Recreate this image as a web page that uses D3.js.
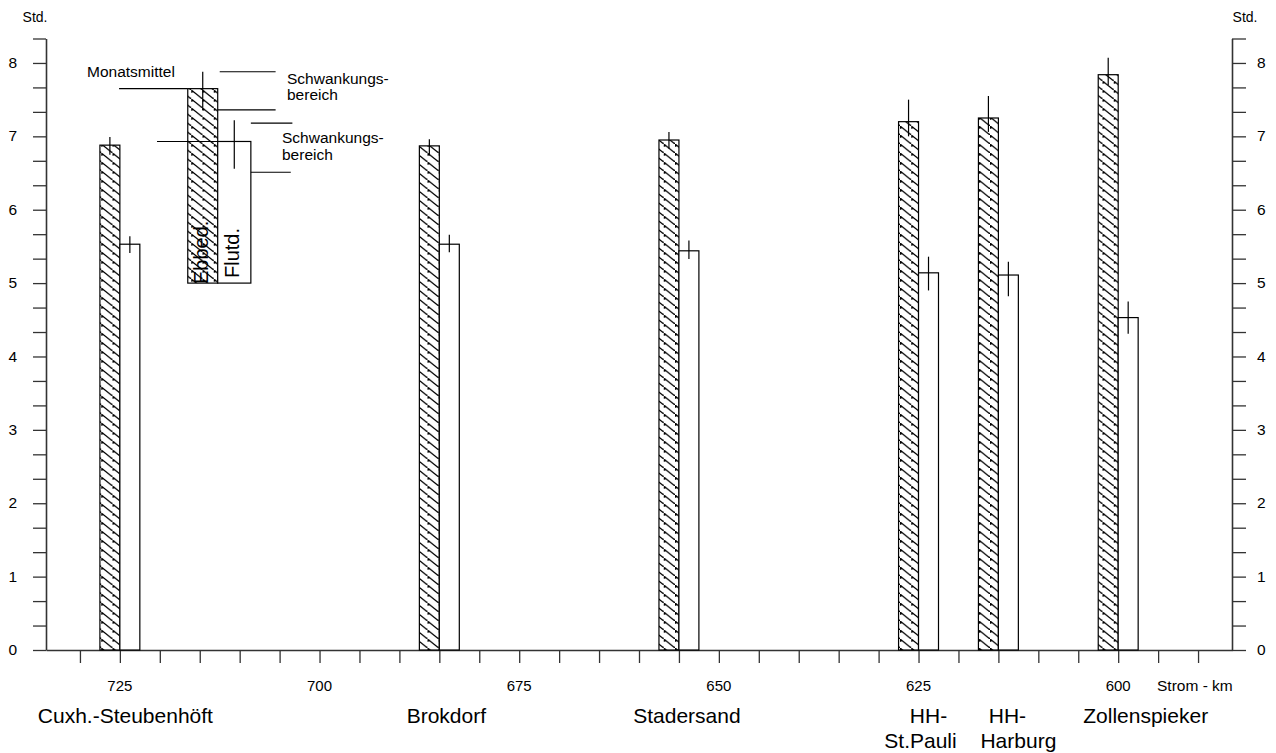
<!DOCTYPE html>
<html>
<head>
<meta charset="utf-8">
<script src="https://cdn.jsdelivr.net/npm/d3@7"></script>
<style>
  html, body { margin: 0; padding: 0; background: #fff; }
  svg { display: block; font-family: "Liberation Sans", Arial, Helvetica, sans-serif; }
</style>
</head>
<body>
<svg id="chart" width="1276" height="753"></svg>
<script>
// Ebb / flood duration (hours) along the tidal Elbe, by river kilometre
const stationNames = [["Cuxh.-Steubenhöft"], ["Brokdorf"], ["Stadersand"], ["HH-", "St.Pauli"], ["HH-", "Harburg"], ["Zollenspieker"]];
const stationKm   = [725, 685, 655, 625, 615, 600];
const ebbMean     = [6.88, 6.87, 6.95, 7.20, 7.25, 7.84];
const ebbMin      = [6.75, 6.74, 6.83, 7.00, 7.06, 7.70];
const ebbMax      = [6.99, 6.96, 7.06, 7.50, 7.55, 8.07];
const floodMean   = [5.53, 5.53, 5.44, 5.14, 5.11, 4.53];
const floodMin    = [5.41, 5.42, 5.33, 4.90, 4.82, 4.31];
const floodMax    = [5.64, 5.66, 5.58, 5.36, 5.29, 4.75];
const kmTicks     = d3.range(730, 589, -5);
const kmTickLabels = [725, 700, 675, 650, 625, 600];
const hourTicks   = d3.range(0, 9);
const hourMinorTicks = d3.range(0, 26).map(i => i / 3);
// key: mean and range of ebb and flood duration
const keyMean = [7.65, 6.93];
const keyMin  = [7.36, 6.56];
const keyMax  = [7.88, 7.22];
const keyBase = 5;

// ---- layout ----
const svg = d3.select("#chart");
const plotL = 46, plotR = 1232, plotT = 38.5, plotB = 650;
const barKm = 2.5;
const x = d3.scaleLinear().domain([734.25, 585.75]).range([plotL, plotR]);
const y = d3.scaleLinear().domain([0, 25 / 3]).range([plotB, plotT]);
const labelShift = [[5.5], [7], [8], [10, 2], [9, 20], [27.5]];

// hatch pattern for the ebb bars
const defs = svg.append("defs");
const pat = defs.append("pattern")
  .attr("id", "hatch").attr("patternUnits", "userSpaceOnUse")
  .attr("width", 11.25).attr("height", 9);
pat.append("rect").attr("width", 11.25).attr("height", 9).attr("fill", "#fff");
pat.append("path")
  .attr("d", "M-2,-1.6 L13.25,10.6 M-13.25,-9 L1.25,2.6 M10,7.8 L24.5,19.4")
  .attr("stroke", "#000").attr("stroke-width", 1.3).attr("fill", "none");

// ---- axes ----
const tickStyle = g => {
  g.select(".domain").attr("stroke", "#333").attr("stroke-width", 1.6);
  g.selectAll(".tick line").attr("stroke", "#333").attr("stroke-width", 1.3);
};

svg.append("g")
  .attr("transform", `translate(${plotL},0)`)
  .call(d3.axisLeft(y).tickValues(hourMinorTicks).tickSize(13).tickSizeOuter(0).tickFormat(""))
  .call(tickStyle);
svg.append("g")
  .attr("transform", `translate(${plotR},0)`)
  .call(d3.axisRight(y).tickValues(hourMinorTicks).tickSize(14).tickSizeOuter(0).tickFormat(""))
  .call(tickStyle);
svg.append("g")
  .attr("transform", `translate(0,${plotB})`)
  .call(d3.axisBottom(x).tickValues(kmTicks).tickSize(13).tickSizeOuter(0).tickFormat(""))
  .call(tickStyle);

const lbl = svg.append("g").attr("fill", "#000");
lbl.selectAll("text.yl").data(hourTicks).join("text")
  .attr("x", 17).attr("y", d => y(d)).attr("dy", "0.33em")
  .attr("text-anchor", "end").attr("font-size", 15.5).text(d => d);
lbl.selectAll("text.yr").data(hourTicks).join("text")
  .attr("x", 1257).attr("y", d => y(d)).attr("dy", "0.33em")
  .attr("text-anchor", "start").attr("font-size", 15.5).text(d => d);
lbl.append("text").attr("x", 35).attr("y", 22).attr("text-anchor", "middle").attr("font-size", 14).text("Std.");
lbl.append("text").attr("x", 1245).attr("y", 22).attr("text-anchor", "middle").attr("font-size", 14).text("Std.");
lbl.selectAll("text.xl").data(kmTickLabels).join("text")
  .attr("x", d => x(d)).attr("y", 691)
  .attr("text-anchor", "middle").attr("font-size", 15).text(d => d);
lbl.append("text").attr("x", 1157).attr("y", 691).attr("font-size", 15.5).text("Strom - km");

// station names
stationNames.forEach((lines, i) => {
  lines.forEach((s, j) => {
    lbl.append("text")
      .attr("x", x(stationKm[i]) + labelShift[i][j])
      .attr("y", 723 + j * 25)
      .attr("text-anchor", "middle").attr("font-size", 21).text(s);
  });
});

// ---- bars ----
const bars = svg.append("g");
stationKm.forEach((km, i) => {
  // ebb (hatched) left of the station, flood (white) right of it
  bars.append("rect")
    .attr("x", x(km + barKm)).attr("width", x(km) - x(km + barKm))
    .attr("y", y(ebbMean[i])).attr("height", y(0) - y(ebbMean[i]))
    .attr("fill", "url(#hatch)").attr("stroke", "#000").attr("stroke-width", 1.2);
  bars.append("rect")
    .attr("x", x(km)).attr("width", x(km - barKm) - x(km))
    .attr("y", y(floodMean[i])).attr("height", y(0) - y(floodMean[i]))
    .attr("fill", "#fff").attr("stroke", "#000").attr("stroke-width", 1.2);
  // range of monthly values
  const ex = x(km + barKm / 2), fx = x(km - barKm / 2);
  bars.append("line").attr("x1", ex).attr("x2", ex)
    .attr("y1", y(ebbMin[i])).attr("y2", y(ebbMax[i]))
    .attr("stroke", "#000").attr("stroke-width", 1.2);
  bars.append("line").attr("x1", fx).attr("x2", fx)
    .attr("y1", y(floodMin[i])).attr("y2", y(floodMax[i]))
    .attr("stroke", "#000").attr("stroke-width", 1.2);
});

// ---- key ----
const key = svg.append("g");
const kEbb = [716.5, 712.75], kFlood = [712.75, 708.6];
key.append("rect")
  .attr("x", x(kEbb[0])).attr("width", x(kEbb[1]) - x(kEbb[0]))
  .attr("y", y(keyMean[0])).attr("height", y(keyBase) - y(keyMean[0]))
  .attr("fill", "url(#hatch)").attr("stroke", "#000").attr("stroke-width", 1.2);
key.append("rect")
  .attr("x", x(kFlood[0])).attr("width", x(kFlood[1]) - x(kFlood[0]))
  .attr("y", y(keyMean[1])).attr("height", y(keyBase) - y(keyMean[1]))
  .attr("fill", "#fff").attr("stroke", "#000").attr("stroke-width", 1.2);
[kEbb, kFlood].forEach((k, i) => {
  const cx = x((k[0] + k[1]) / 2);
  key.append("line").attr("x1", cx).attr("x2", cx)
    .attr("y1", y(keyMin[i])).attr("y2", y(keyMax[i]))
    .attr("stroke", "#000").attr("stroke-width", 1.2);
});
const leader = (k1, k2, v) => key.append("line")
  .attr("x1", x(k1)).attr("x2", x(k2)).attr("y1", y(v)).attr("y2", y(v))
  .attr("stroke", "#000").attr("stroke-width", 1.1);
leader(725.1, kEbb[0], keyMean[0]);
leader(720.35, kFlood[0], keyMean[1]);
leader(712.5, 705.5, keyMax[0]);
leader(kEbb[1], 705.5, keyMin[0]);
leader(kFlood[1], 703.4, keyMax[1] - 0.04);
leader(kFlood[1], 703.6, keyMin[1] - 0.05);

const kt = svg.append("g").attr("font-size", 16).attr("fill", "#000");
kt.append("text").attr("x", 87).attr("y", 77).attr("font-size", 15.5).text("Monatsmittel");
kt.append("text").attr("x", 287).attr("y", 84).attr("font-size", 15.5).text("Schwankungs-");
kt.append("text").attr("x", 287).attr("y", 100).attr("font-size", 15.5).text("bereich");
kt.append("text").attr("x", 282).attr("y", 142.5).attr("font-size", 15.5).text("Schwankungs-");
kt.append("text").attr("x", 282).attr("y", 160).attr("font-size", 15.5).text("bereich");
kt.append("text").attr("transform", "translate(208,284) rotate(-90)").attr("font-size", 20).text("Ebbed.");
kt.append("text").attr("transform", "translate(239,278) rotate(-90)").attr("font-size", 20).text("Flutd.");
</script>
</body>
</html>
